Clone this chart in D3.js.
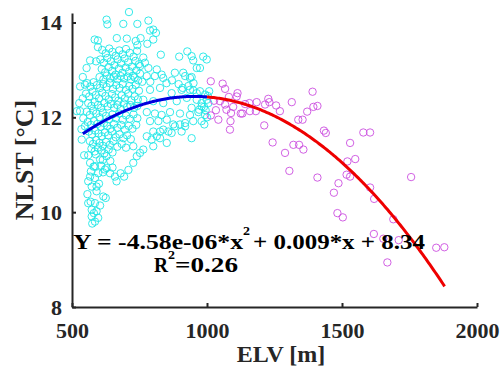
<!DOCTYPE html>
<html><head><meta charset="utf-8">
<script src="https://cdn.jsdelivr.net/npm/d3@7"></script>
<style>body{margin:0;background:#fff}svg{display:block}</style>
</head><body>
<script>
// ---------- data ----------
const xTicks = [500, 1000, 1500, 2000];
const yTicks = [8, 10, 12, 14];
// ELV < 1000 m (cyan)
const lowElv = [
[711,14.22],[628,14.06],[631,13.96],[690,13.97],[742,13.97],[783,14.04],[801,13.85],[811,13.78],[789,13.83],
[584,13.64],[596,13.62],[596,13.48],[666,13.67],[703,13.66],[736,13.61],[742,13.52],[754,13.67],[779,13.55],[801,13.64],
[829,13.32],[897,13.28],[927,13.39],[943,13.29],[949,13.20],[962,13.04],[974,13.04],[986,13.28],[999,13.22],
[567,13.20],[589,13.18],[554,13.04],[764,13.26],[770,13.15],[752,13.08],[783,13.04],[814,13.01],[832,12.90],[807,12.87],
[881,12.94],[912,12.94],[919,12.87],[943,12.85],[777,12.87],[838,12.83],[937,12.83],
[612,13.42],[625,13.35],[638,13.45],[650,13.38],[662,13.30],[675,13.41],[688,13.33],[700,13.44],[714,13.36],[728,13.28],[741,13.40],
[605,13.22],[618,13.15],[631,13.25],[644,13.18],[657,13.10],[669,13.22],[682,13.14],[695,13.24],[708,13.16],[722,13.07],[735,13.19],[748,13.12],
[610,13.02],[623,12.95],[636,13.06],[649,12.98],[661,12.90],[674,13.03],[687,12.94],[699,13.05],[712,12.97],[726,12.88],[739,12.99],[752,12.92],
[602,12.85],[616,12.80],[629,12.88],[642,12.82],[655,12.86],[668,12.80],[680,12.87],[693,12.82],[706,12.86],[718,12.80],[732,12.84],[745,12.78],
[556,12.72],[568,12.65],[580,12.74],[592,12.68],[604,12.62],[616,12.70],[628,12.64],[640,12.72],[652,12.60],[664,12.68],[676,12.62],[688,12.70],[700,12.58],[712,12.66],[724,12.60],[736,12.68],[748,12.56],
[552,12.50],[564,12.44],[576,12.54],[588,12.47],[600,12.40],[612,12.52],[624,12.45],[636,12.38],[648,12.49],[660,12.42],[672,12.35],[684,12.46],[696,12.40],[708,12.50],[720,12.36],[732,12.44],[744,12.38],
[560,12.30],[572,12.24],[584,12.32],[596,12.26],[608,12.20],[620,12.30],[632,12.23],[644,12.28],[656,12.20],[668,12.26],[680,12.18],[692,12.29],[704,12.22],[716,12.26],[730,12.20],[742,12.24],
[555,12.12],[566,12.05],[578,12.14],[590,12.08],[602,12.00],[614,12.10],[626,12.03],[638,11.96],[650,12.06],[662,11.98],[675,12.08],[688,11.95],[700,12.04],[714,11.97],[728,12.06],[742,11.98],
[558,11.90],[570,11.84],[582,11.92],[594,11.86],[606,11.80],[618,11.88],[630,11.82],[642,11.76],[655,11.86],[668,11.78],[682,11.84],[696,11.74],[710,11.82],[724,11.76],[738,11.84],
[562,11.70],[574,11.64],[586,11.72],[598,11.66],[610,11.60],[622,11.68],[634,11.62],[648,11.70],[662,11.58],[676,11.64],[690,11.56],[704,11.62],[718,11.54],
[566,11.50],[578,11.44],[590,11.52],[602,11.46],[614,11.40],[626,11.48],[640,11.42],[654,11.50],[668,11.38],[684,11.44],[700,11.36],
[572,11.34],[584,11.28],[596,11.36],[608,11.30],[620,11.24],[636,11.32],[650,11.26],
[560,11.20],[588,11.22],[614,11.10],[628,11.18],[642,11.08],[580,10.96],[608,10.98],[622,10.90],[650,10.94],[570,10.86],[615,10.84],
[567,11.04],[585,10.97],[604,11.11],[597,10.82],[628,10.93],[641,10.82],[659,10.75],[665,10.65],[680,10.82],[693,10.75],[709,10.89],
[727,11.04],[740,11.18],[752,11.25],[727,11.39],[764,11.32],[795,11.53],[814,11.60],[801,11.39],[851,11.46],[826,11.70],[857,11.70],
[881,11.81],[900,11.85],[919,11.81],[943,11.56],[906,11.70],
[560,10.65],[573,10.54],[591,10.54],[585,10.72],[600,10.60],[567,10.75],
[557,10.38],[591,10.44],[616,10.33],[625,10.30],[560,10.19],[585,10.19],[604,10.14],[573,10.05],[591,10.02],[581,9.98],[573,9.91],[597,9.88],[585,9.80],[575,9.76],[569,10.22],
[518,12.13],[530,12.13],[542,11.98],[530,12.65],[548,12.69],[540,12.40],[527,12.30],[536,11.53],[548,11.81],[535,11.75],[545,11.20],[540,12.85],
[789,12.58],[826,12.62],[869,12.51],[906,12.58],[937,12.58],[962,12.51],[764,12.37],[801,12.34],[838,12.30],[888,12.34],[925,12.41],[980,12.23],
[777,12.11],[807,12.08],[832,12.05],[863,12.11],[900,12.08],[937,12.05],[968,12.11],[993,12.05],
[789,11.92],[820,11.92],[851,11.95],[875,11.85],[919,11.88],[949,11.92],[980,11.92],[801,11.70],[838,11.74],[869,11.67],[777,11.60],[826,11.56],
[910,12.62],[931,12.66],[949,12.57],[974,12.55],[993,12.48],[962,12.37],[980,12.30],[999,12.37],[943,12.20],[971,12.16],[989,12.22],
[760,12.75],[790,12.75],[850,12.72],[870,12.78],[895,12.70],[950,12.72],
[1003,12.45],[1005,12.30],[995,12.15],[1000,12.00],[990,11.85],[1008,12.55]
];
// ELV >= 1000 m (magenta)
const highElv = [
[1014,12.76],[1058,12.71],[1067,12.60],[1113,12.51],[1110,12.44],[1081,12.43],[1026,12.35],[1048,12.34],[1033,12.15],[1042,11.95],
[1067,12.27],[1072,12.16],[1089,12.09],[1087,11.92],[1085,11.74],[1097,12.22],[1125,12.08],[1131,12.08],[1141,12.28],[1157,12.30],
[1159,12.13],[1184,12.32],[1181,12.13],[1215,12.27],[1227,12.39],[1231,12.32],[1256,12.25],[1270,12.13],[1314,12.32],[1212,11.83],
[1243,11.47],[1289,11.25],[1320,11.42],[1341,11.42],[1357,11.32],[1338,11.95],[1354,11.95],[1371,12.12],[1394,12.22],[1409,12.24],
[1391,12.54],[1433,11.72],[1440,11.67],[1305,10.87],[1409,10.73],[1530,11.46],[1579,11.68],[1604,11.68],[1520,11.07],[1549,11.12],
[1517,10.79],[1530,10.75],[1487,10.61],[1470,10.41],[1604,10.52],[1756,10.74],[1619,10.28],[1483,9.98],[1503,9.89],[1690,9.85],
[1618,9.54],[1653,9.44],[1710,9.41],[1849,9.25],[1879,9.26],[1668,8.94],[1014,12.04]
];
// quadratic fit drawn in the chart: a*x^2 + b*x + c
const fitCoef = [-4.65e-6, 0.008854, 8.226];
const fitRange = [540, 1000, 1880];
const eqParts = ["Y = -4.58e-06*x", "2", "+ 0.009*x + 8.34"];
const r2Parts = ["R", "2", "=0.26"];

// ---------- chart ----------
const W = 501, H = 381;
const svg = d3.select("body").append("svg").attr("width", W).attr("height", H);
const x = d3.scaleLinear().domain([500, 2000]).range([72, 477]);
const y = d3.scaleLinear().domain([8, 14.2]).range([307, 13]);
const font = "'Liberation Serif','Times New Roman',serif";
const axisCol = "#262626";

const g = svg.append("g");
g.selectAll("circle.lo").data(lowElv).join("circle").attr("class", "lo")
  .attr("cx", d => x(d[0])).attr("cy", d => y(d[1])).attr("r", 3.7)
  .attr("fill", "none").attr("stroke", "#1ee6e6").attr("stroke-width", 0.9);
g.selectAll("circle.hi").data(highElv).join("circle").attr("class", "hi")
  .attr("cx", d => x(d[0])).attr("cy", d => y(d[1])).attr("r", 3.7)
  .attr("fill", "none").attr("stroke", "#cc4fe0").attr("stroke-width", 0.9);

const f = v => fitCoef[0] * v * v + fitCoef[1] * v + fitCoef[2];
const line = d3.line().x(d => x(d)).y(d => y(f(d)));
const seg1 = d3.range(fitRange[0], fitRange[1] + 1, 5);
const seg2 = d3.range(fitRange[1], fitRange[2] + 1, 5);
g.append("path").attr("d", line(seg1)).attr("fill", "none").attr("stroke", "#0000dd").attr("stroke-width", 3);
g.append("path").attr("d", line(seg2)).attr("fill", "none").attr("stroke", "#ee0000").attr("stroke-width", 3);

// axes
const xAxis = d3.axisBottom(x).tickValues(xTicks).tickFormat(d3.format("d")).tickSizeInner(-4).tickSizeOuter(0).tickPadding(15);
const yAxis = d3.axisLeft(y).tickValues(yTicks).tickFormat(d3.format("d")).tickSizeInner(-4).tickSizeOuter(0).tickPadding(10);
const gx = svg.append("g").attr("transform", "translate(0,307)").call(xAxis);
const gy = svg.append("g").attr("transform", "translate(72,0)").call(yAxis);
[gx, gy].forEach(a => {
  a.select(".domain").attr("stroke", axisCol).attr("stroke-width", 2);
  a.selectAll(".tick line").attr("stroke", axisCol).attr("stroke-width", 2);
  a.selectAll(".tick text").attr("fill", "#262626").attr("font-family", font)
    .attr("font-weight", "bold").attr("font-size", 22);
});

svg.append("text").attr("x", 281).attr("y", 362).attr("text-anchor", "middle")
  .attr("font-family", font).attr("font-weight", "bold").attr("font-size", 24).attr("fill", "#262626")
  .text("ELV [m]");
svg.append("text").attr("transform", "translate(33,160) rotate(-90)").attr("text-anchor", "middle")
  .attr("font-family", font).attr("font-weight", "bold").attr("font-size", 26).attr("fill", "#262626")
  .text("NLST [°C]");

// equation text
function txt(s, xx, yy, size, len) {
  return svg.append("text").attr("x", xx).attr("y", yy)
    .attr("font-family", font).attr("font-weight", "bold").attr("font-size", size).attr("fill", "#000")
    .attr("textLength", len).attr("lengthAdjust", "spacingAndGlyphs").text(s);
}
txt(eqParts[0], 73, 248.5, 20, 170);
txt(eqParts[1], 243, 235, 13, 7);
txt(eqParts[2], 253, 248.5, 20, 172);
txt(r2Parts[0], 154, 271.5, 20, 14);
txt(r2Parts[1], 168, 259, 13, 7);
txt(r2Parts[2], 175, 271.5, 20, 63);
</script>
</body></html>
